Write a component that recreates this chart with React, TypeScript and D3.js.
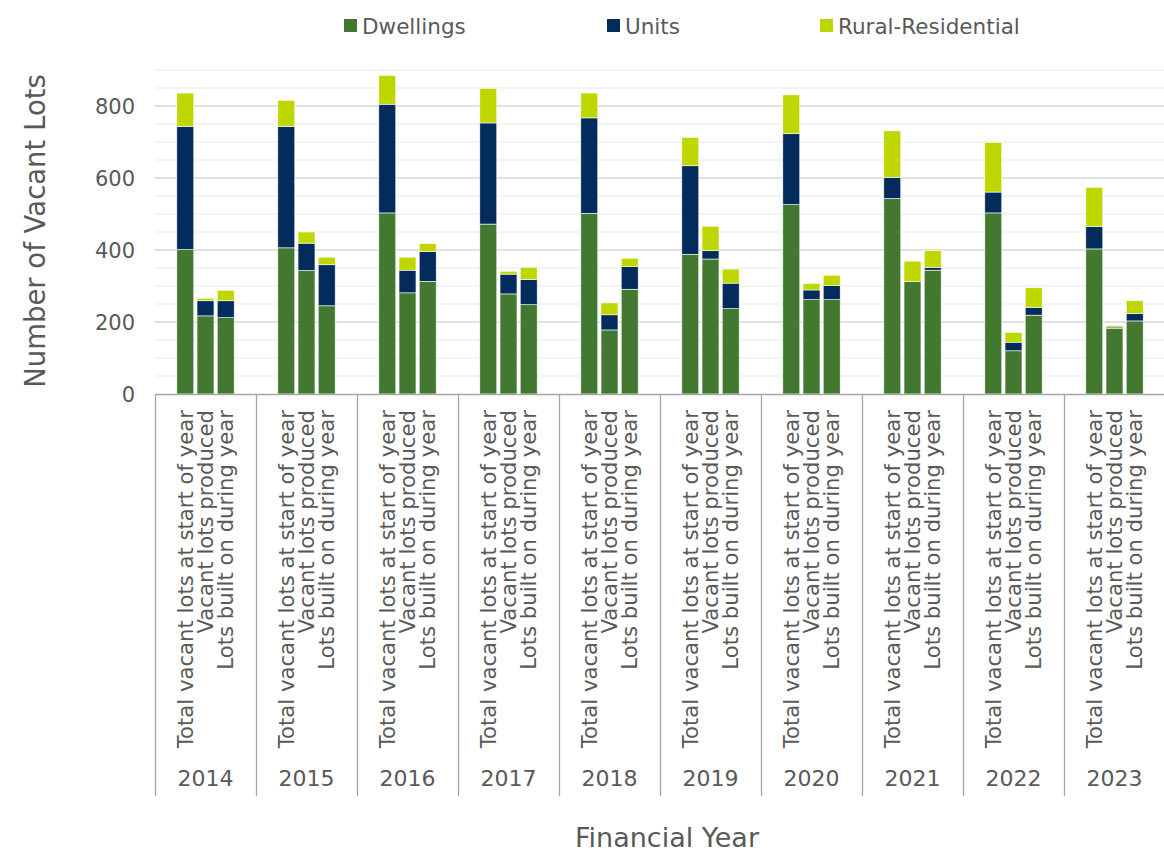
import React from "react";
import * as d3 from "d3";

const years = ["2014", "2015", "2016", "2017", "2018", "2019", "2020", "2021", "2022", "2023"];
const categories = ["Total vacant lots at start of year", "Vacant lots produced", "Lots built on during year"];
const seriesNames = ["Dwellings", "Units", "Rural-Residential"];
const seriesColors = ["#437830", "#032B5B", "#BFD700"];

// values in order: for each year, [start of year, produced, built on]
const dwellings = [401, 217, 212, 406, 343, 245, 503, 281, 313, 472, 278, 248, 502, 178, 291, 388, 375, 237, 526, 262, 262, 543, 312, 344, 503, 120, 219, 403, 182, 203];
const units = [342, 42, 47, 337, 76, 114, 302, 63, 83, 281, 55, 70, 265, 42, 63, 246, 23, 71, 197, 27, 39, 59, 0, 8, 58, 24, 22, 62, 4, 20];
const rural = [93, 7, 29, 73, 31, 21, 80, 36, 22, 96, 8, 34, 69, 33, 23, 79, 68, 39, 108, 18, 29, 129, 57, 46, 138, 27, 54, 109, 4, 36];

const yTicks = [0, 200, 400, 600, 800];

const W = 1164;
const H = 854;
const FONT = "DejaVu Sans, sans-serif";
const TEXT = "#595959";

export default function App() {
  const rows = years.flatMap((yr, yi) =>
    categories.map((cat, ci) => {
      const i = yi * 3 + ci;
      return { year: yr, cat, Dwellings: dwellings[i], Units: units[i], "Rural-Residential": rural[i] };
    })
  );
  const stacked = d3.stack<any>().keys(seriesNames)(rows);

  const x0 = d3.scaleBand().domain(years).range([155, 1165]).padding(0);
  const step = x0.bandwidth() / 5;
  const x1 = d3.scaleBand().domain(categories).range([step, step * 4]).paddingInner(0.16).paddingOuter(0.08);
  const y = d3.scaleLinear().domain([0, 900]).range([394, 70]);
  const grid = d3.range(50, 901, 50);

  const legendX = [344, 607, 820];

  return (
    <svg width={W} height={H} style={{ position: "absolute", left: 0, top: 0, background: "#fff" }} fontFamily={FONT}>
      {grid.map((g) => (
        <line key={g} x1={155} x2={1164} y1={y(g)} y2={y(g)} stroke={g % 200 === 0 ? "#d9d9d9" : "#f0f0f0"} strokeWidth={1.3} />
      ))}
      {stacked.map((s, si) => (
        <g key={s.key} fill={seriesColors[si]}>
          {s.map((d, i) => {
            const r = rows[i];
            const h = y(d[0]) - y(d[1]);
            if (h <= 0) return null;
            return (
              <rect
                key={i}
                x={(x0(r.year) as number) + (x1(r.cat) as number)}
                y={y(d[1])}
                width={x1.bandwidth()}
                height={h}
                stroke="#ffffff"
                strokeWidth={0.6}
              />
            );
          })}
        </g>
      ))}
      <line x1={155} x2={1164} y1={394.5} y2={394.5} stroke="#a6a6a6" strokeWidth={1.3} />
      {[...years.map((yr) => x0(yr) as number), 1165].map((sx, i) => (
        <line key={i} x1={sx + 0.5} x2={sx + 0.5} y1={394} y2={796} stroke="#a6a6a6" strokeWidth={1.3} />
      ))}
      {years.map((yr) =>
        categories.map((cat) => {
          const cx = (x0(yr) as number) + (x1(cat) as number) + x1.bandwidth() / 2;
          return (
            <text
              key={yr + cat}
              transform={`translate(${cx},410) rotate(-90)`}
              textAnchor="end"
              dy="0.36em"
              fontSize={21.2}
              fill={TEXT}
            >
              {cat}
            </text>
          );
        })
      )}
      {years.map((yr) => (
        <text key={yr} x={(x0(yr) as number) + x0.bandwidth() / 2} y={778} dy="0.36em" textAnchor="middle" fontSize={22} fill={TEXT}>
          {yr}
        </text>
      ))}
      {yTicks.map((t) => (
        <text key={t} x={135} y={y(t)} dy="0.36em" textAnchor="end" fontSize={21} fill={TEXT}>
          {t}
        </text>
      ))}
      <text transform="translate(35,231) rotate(-90)" textAnchor="middle" dy="0.36em" fontSize={27.5} fill={TEXT}>
        Number of Vacant Lots
      </text>
      <text x={667} y={837} dy="0.36em" textAnchor="middle" fontSize={27} fill={TEXT}>
        Financial Year
      </text>
      {seriesNames.map((n, i) => (
        <g key={n}>
          <rect x={legendX[i]} y={19} width={13} height={13} fill={seriesColors[i]} />
          <text x={legendX[i] + 18} y={26} dy="0.36em" fontSize={21.5} fill={TEXT}>
            {n}
          </text>
        </g>
      ))}
    </svg>
  );
}
